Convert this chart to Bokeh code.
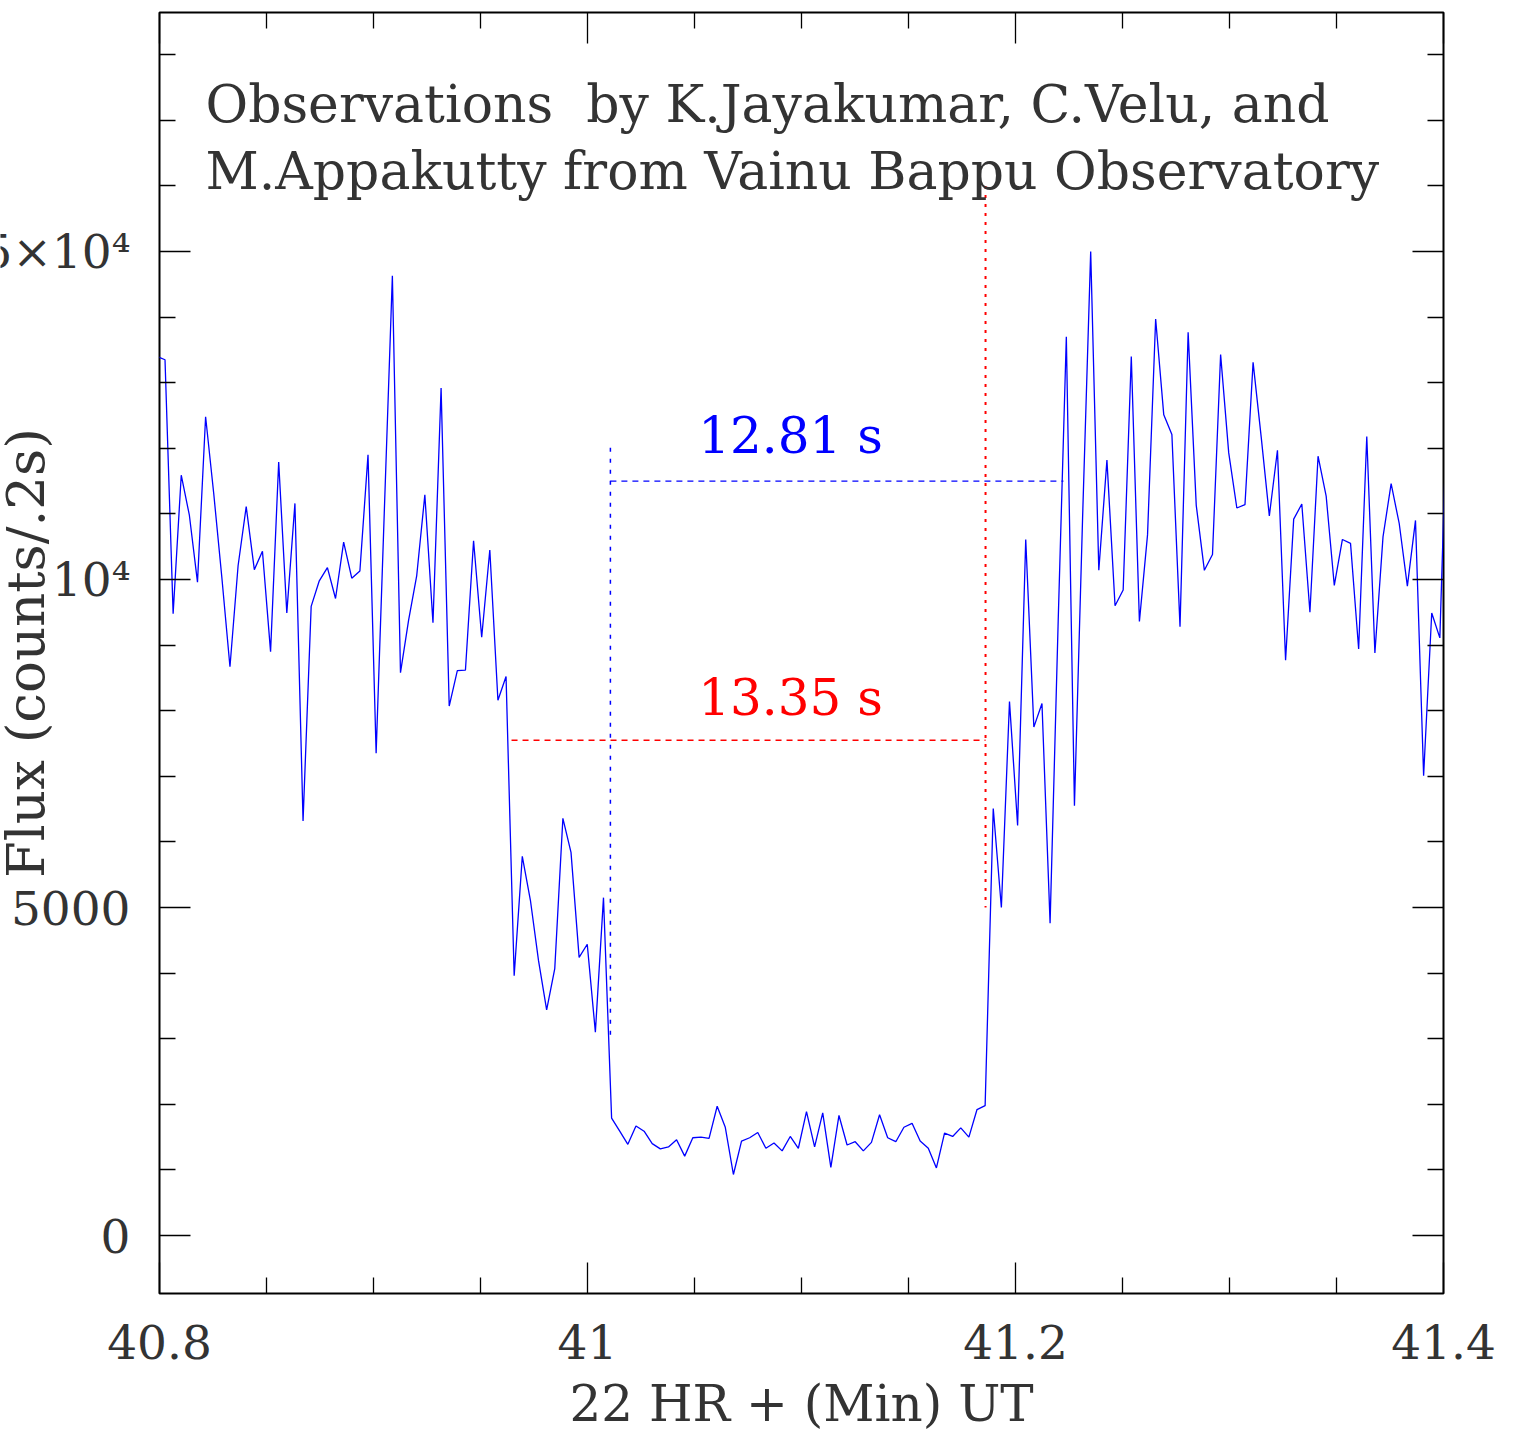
import numpy as np
from math import pi
from bokeh.plotting import figure
from bokeh.layouts import row, column
from bokeh.models import (Range1d, FixedTicker, LinearAxis, Label, ColumnDataSource)
from bokeh.core.properties import value
from bokeh.embed import file_html
from bokeh.resources import INLINE

# ---- data -------------------------------------------------------------
# light-curve samples (counts / .2 s), regularly sampled in time
t_start = 40.79878      # minutes after 22 h UT of the first sample
t_step = 0.0037944      # sampling step (minutes)
flux = [
    13400, 13350, 9480, 11590, 10980, 9960, 12480, 11310, 10030, 8670,
    10210, 11110, 10150, 10430, 8900, 11790, 9490, 11160, 6320, 9590,
    9980, 10180, 9710, 10570, 10020, 10130, 11900, 7350, 11010, 14630,
    8580, 9380, 10060, 11290, 9340, 12920, 8070, 8610, 8620, 10590,
    9120, 10450, 8160, 8520, 3960, 5780, 5110, 4190, 3440, 4070,
    6360, 5840, 4240, 4440, 3100, 5150, 1790, 1590, 1390, 1670,
    1590, 1400, 1320, 1350, 1460, 1210, 1490, 1500, 1480, 1970,
    1650, 930, 1440, 1490, 1570, 1330, 1410, 1290, 1510, 1330,
    1890, 1350, 1870, 1040, 1830, 1380, 1430, 1290, 1420, 1840,
    1490, 1430, 1650, 1710, 1440, 1330, 1030, 1560, 1510, 1640,
    1500, 1920, 1980, 6510, 5000, 8140, 6250, 10610, 7750, 8110,
    4760, 9380, 13700, 6550, 10930, 15000, 10140, 11820, 9600, 9840,
    13400, 9360, 10680, 13970, 12510, 12210, 9280, 13770, 11130, 10140,
    10380, 13430, 11930, 11090, 11140, 13310, 12170, 10970, 11970, 8770,
    10920, 11150, 9500, 11880, 11270, 9910, 10610, 10550, 8940, 12180,
    8880, 10650, 11460, 10850, 9900, 10900, 7010, 9490, 9110, 13140,
]
times = t_start + t_step * np.arange(len(flux))

# occultation duration markers
blue_vline_x = [41.0107, 41.0107]
blue_vline_y = [12010, 2970]
blue_hline_x = [41.0107, 41.2224]
blue_hline_y = [11500, 11500]
red_vline_x = [41.186, 41.186]
red_vline_y = [16000, 5000]
red_hline_x = [40.9645, 41.186]
red_hline_y = [7550, 7550]
blue_label = "12.81 s"
blue_label_pos = (41.0949, 12180)
red_label = "13.35 s"
red_label_pos = (41.0949, 8186)

title_lines = ["Observations\u00a0 by K.Jayakumar, C.Velu, and",
               "M.Appakutty from Vainu Bappu Observatory"]
title_pos_x = 40.8215
title_pos_y = [17250, 16230]

x_major = [40.8, 41.0, 41.2, 41.4]
x_major_labels = ["40.8", "41", "41.2", "41.4"]
x_minor = [40.85, 40.9, 40.95, 41.05, 41.1, 41.15, 41.25, 41.3, 41.35]
y_major = [0, 5000, 10000, 15000]
y_major_labels = ["0", "5000", "10\u2074", "1.5\u00d710\u2074"]
y_minor = [1000, 2000, 3000, 4000, 6000, 7000, 8000, 9000, 11000, 12000,
           13000, 14000, 16000, 17000, 18000]
y_title = "Flux (counts/.2s)"
x_title = "22 HR + (Min) UT"
x_range = (40.8, 41.4)
y_range = (-884, 18643)

# ---- layout constants (pixels) -----------------------------------------
FONT = "DejaVu Serif"
TXT = "#333333"
PAGE_W = 1513
FRAME_W, FRAME_H = 1284, 1281
TOP = 12
LEFT_W = 157          # left strip width; frame starts at LEFT_W + 2
FRAME_LEFT = LEFT_W + 2
BOTTOM_H = 140

yr = Range1d(*y_range)

# ---- left strip: y tick labels and y title (overlap/crop as in original) --
lp = figure(frame_width=LEFT_W, frame_height=FRAME_H, output_backend="svg",
            toolbar_location=None, x_range=Range1d(0, LEFT_W), y_range=yr,
            x_axis_location=None, y_axis_location=None,
            min_border_left=0, min_border_right=0, min_border_top=TOP,
            min_border_bottom=2)
lp.outline_line_color = None
lp.grid.visible = False
lp.text(x=[FRAME_LEFT - 29] * len(y_major), y=y_major, text=y_major_labels,
        text_align="right", text_baseline="middle",
        text_font=value(FONT), text_font_size=value("47px"), text_color=TXT)
lp.text(x=[25], y=[(y_range[0] + y_range[1]) / 2], text=[y_title], angle=pi / 2,
        text_align="center", text_baseline="middle",
        text_font=value(FONT), text_font_size=value("53px"), text_color=TXT)

# ---- main figure ------------------------------------------------------
p = figure(frame_width=FRAME_W, frame_height=FRAME_H, output_backend="svg",
           toolbar_location=None,
           x_range=Range1d(*x_range), y_range=yr,
           min_border_left=2, min_border_right=PAGE_W - FRAME_LEFT - FRAME_W,
           min_border_top=TOP, min_border_bottom=2,
           background_fill_color="white", border_fill_color="white")
p.grid.visible = False
p.outline_line_color = "black"
p.outline_line_width = 2

xt = FixedTicker(ticks=x_major, minor_ticks=x_minor)
yt = FixedTicker(ticks=y_major, minor_ticks=y_minor)

def style_axis(ax):
    ax.axis_line_color = None
    ax.major_tick_in = 31
    ax.major_tick_out = 0
    ax.minor_tick_in = 16
    ax.minor_tick_out = 0
    ax.major_tick_line_color = "black"
    ax.minor_tick_line_color = "black"
    ax.major_tick_line_width = 1.3
    ax.minor_tick_line_width = 1.3
    ax.major_label_text_font_size = "0px"
    ax.major_label_standoff = 0

p.xaxis[0].ticker = xt
style_axis(p.xaxis[0])
p.yaxis[0].ticker = yt
style_axis(p.yaxis[0])
top = LinearAxis(ticker=xt)
style_axis(top)
p.add_layout(top, "above")
right = LinearAxis(ticker=yt)
style_axis(right)
p.add_layout(right, "right")

# data line
src = ColumnDataSource(dict(t=times, f=flux))
p.line("t", "f", source=src, line_color="#0000ff", line_width=1.3)

# markers
p.line(blue_vline_x, blue_vline_y, line_color="#0000ff", line_width=1.5, line_dash="4 7")
p.line(blue_hline_x, blue_hline_y, line_color="#0000ff", line_width=1.4, line_dash="6 5")
p.line(red_vline_x, red_vline_y, line_color="#ff0000", line_width=2, line_dash="3 6")
p.line(red_hline_x, red_hline_y, line_color="#ff0000", line_width=1.4, line_dash="6 5")

p.add_layout(Label(x=blue_label_pos[0], y=blue_label_pos[1], text=blue_label,
                   text_align="center", text_baseline="alphabetic",
                   text_font=FONT, text_font_size="50px", text_color="#0000ff"))
p.add_layout(Label(x=red_label_pos[0], y=red_label_pos[1], text=red_label,
                   text_align="center", text_baseline="alphabetic",
                   text_font=FONT, text_font_size="50px", text_color="#ff0000"))

for line, yv in zip(title_lines, title_pos_y):
    p.add_layout(Label(x=title_pos_x, y=yv, text=line,
                       text_align="left", text_baseline="alphabetic",
                       text_font=FONT, text_font_size="52px", text_color=TXT))

# ---- bottom strip: x tick labels and x title ----------------------------
scale = FRAME_W / (x_range[1] - x_range[0])
bp = figure(frame_width=PAGE_W, frame_height=BOTTOM_H, output_backend="svg",
            toolbar_location=None,
            x_range=Range1d(x_range[0] - FRAME_LEFT / scale,
                            x_range[0] + (PAGE_W - FRAME_LEFT) / scale),
            y_range=Range1d(BOTTOM_H, 0),
            x_axis_location=None, y_axis_location=None,
            min_border_left=0, min_border_right=0, min_border_top=0,
            min_border_bottom=0)
bp.outline_line_color = None
bp.grid.visible = False
bp.text(x=x_major, y=[46] * len(x_major), text=x_major_labels,
        text_align="center", text_baseline="middle",
        text_font=value(FONT), text_font_size=value("47px"), text_color=TXT)
bp.text(x=[(x_range[0] + x_range[1]) / 2], y=[108], text=[x_title],
        text_align="center", text_baseline="middle",
        text_font=value(FONT), text_font_size=value("50px"), text_color=TXT)

layout = column(row(lp, p), bp)
open("out.html", "w").write(file_html(layout, INLINE))
